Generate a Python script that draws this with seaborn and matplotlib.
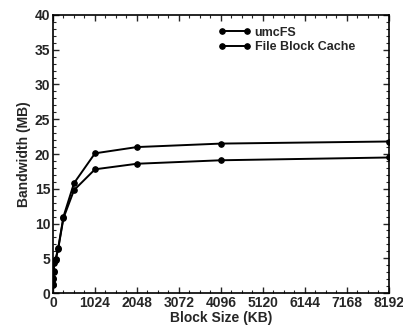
import numpy as np
import pandas as pd
import matplotlib
matplotlib.use("Agg")
import matplotlib.pyplot as plt
import seaborn as sns
from matplotlib.ticker import AutoMinorLocator

block_size = [4, 8, 16, 32, 64, 128, 256, 512, 1024, 2048, 4096, 8192]
umcfs = [1.3, 2.2, 3.2, 4.6, 4.9, 6.5, 11.0, 15.8, 20.1, 21.0, 21.5, 21.8]
file_block_cache = [1.1, 2.0, 3.0, 4.3, 4.7, 6.4, 10.8, 14.8, 17.8, 18.6, 19.1, 19.5]
series_names = ["umcFS", "File Block Cache"]

df = pd.DataFrame({
    "size": block_size * 2,
    "bw": umcfs + file_block_cache,
    "series": [series_names[0]] * len(block_size) + [series_names[1]] * len(block_size),
})

sns.set_style("ticks")
plt.rcParams['font.family'] = ['Liberation Sans', 'DejaVu Sans']
plt.rcParams['font.weight'] = 'bold'

fig = plt.figure(figsize=(4.03, 3.33), dpi=100)
ax = fig.add_axes([0.1315, 0.12, 0.8335, 0.835])

sns.lineplot(data=df, x="size", y="bw", hue="series", style="series",
             palette=["black", "black"], dashes=False, markers=["o", "o"],
             markersize=4, linewidth=1.4, markeredgecolor="black", ax=ax)

ax.set_xlim(0, 8192)
ax.set_ylim(0, 40)
ax.set_xticks([0, 1024, 2048, 3072, 4096, 5120, 6144, 7168, 8192])
ax.set_yticks([0, 5, 10, 15, 20, 25, 30, 35, 40])
ax.xaxis.set_minor_locator(AutoMinorLocator(4))
ax.yaxis.set_minor_locator(AutoMinorLocator(5))
ax.tick_params(which="both", direction="in", top=True, right=True, labelsize=10, pad=2)
ax.tick_params(which="major", length=4, width=1)
ax.tick_params(which="minor", length=2, width=0.8)
for lbl in ax.get_xticklabels() + ax.get_yticklabels():
    lbl.set_fontweight("bold")
for sp in ax.spines.values():
    sp.set_linewidth(1.2)
    sp.set_color("black")

ax.set_xlabel("Block Size (KB)", fontsize=10, fontweight="bold", labelpad=1)
ax.set_ylabel("Bandwidth (MB)", fontsize=10, fontweight="bold", labelpad=3)

leg = ax.legend(loc="upper left", bbox_to_anchor=(0.47, 0.985), frameon=False,
                fontsize=9, numpoints=2, handlelength=2.6, handletextpad=0.3,
                labelspacing=0.2, borderaxespad=0.2)
for t in leg.get_texts():
    t.set_fontweight("bold")

fig.savefig("out.png", dpi=100)
